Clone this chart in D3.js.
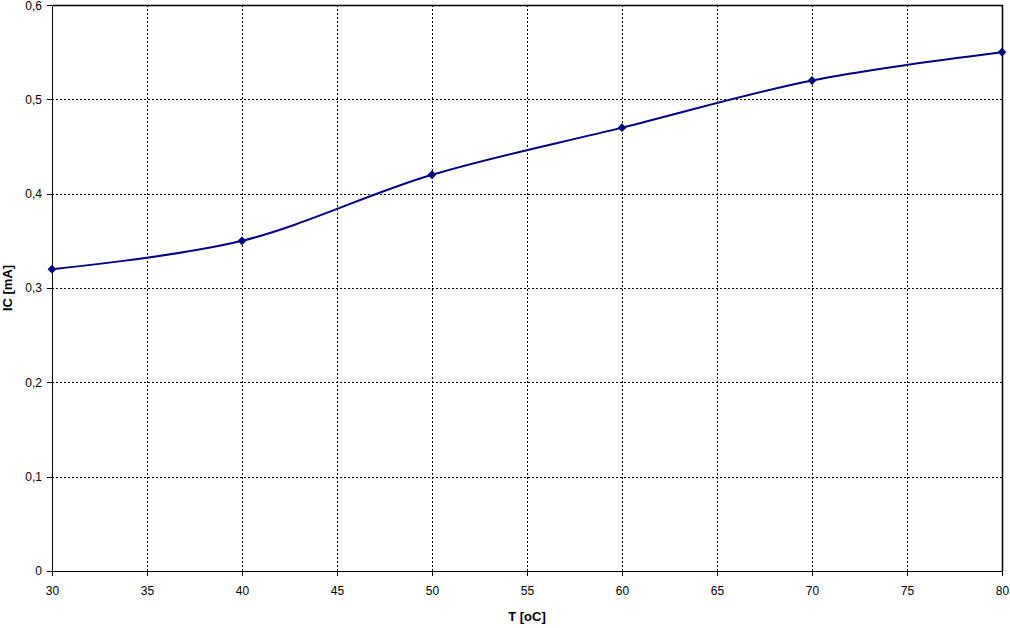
<!DOCTYPE html>
<html>
<head>
<meta charset="utf-8">
<script src="https://cdn.jsdelivr.net/npm/d3@7"></script>
<style>
	body { margin: 0; background: #fff; }
	svg { display: block; font-family: "Liberation Sans", Arial, sans-serif; }
	.grid line { stroke: #000; stroke-dasharray: 2,2; shape-rendering: crispEdges; }
	.axis text { font-size: 12px; fill: #000; }
	.axis path, .axis line { stroke: #000; shape-rendering: crispEdges; }
	.axis-title { font-size: 13px; font-weight: bold; }
</style>
</head>
<body>
<div id="chart"></div>
<script>
const temps = [30, 40, 50, 60, 70, 80];
const currents = [0.32, 0.35, 0.42, 0.47, 0.52, 0.55];
const xTicks = [30, 35, 40, 45, 50, 55, 60, 65, 70, 75, 80];
const yTicks = [0, 0.1, 0.2, 0.3, 0.4, 0.5, 0.6];

const width = 1010;
const height = 628;
const margins = {left: 52, right: 8, top: 5, bottom: 57};
const graphWidth = width - margins.left - margins.right;
const graphHeight = height - margins.top - margins.bottom;

const svg = d3.select('#chart').append('svg')
	.attr('width', width)
	.attr('height', height);

const g = svg.append('g')
	.attr('transform', `translate(${margins.left},${margins.top})`);

const x = d3.scaleLinear().domain([30, 80]).range([0, graphWidth]);
const y = d3.scaleLinear().domain([0, 0.6]).range([graphHeight, 0]);

const fmt = d => d === 0 ? '0' : d3.format('.1f')(d).replace('.', ',');

// dotted grid
g.append('g').attr('class', 'grid')
	.selectAll('line.h').data(yTicks.slice(1, -1))
	.enter().append('line')
	.attr('x1', 0).attr('x2', graphWidth)
	.attr('y1', d => Math.round(y(d)) + 0.5).attr('y2', d => Math.round(y(d)) + 0.5);

g.append('g').attr('class', 'grid')
	.selectAll('line.v').data(xTicks.slice(1, -1))
	.enter().append('line')
	.attr('y1', 0).attr('y2', graphHeight)
	.attr('x1', d => Math.round(x(d)) + 0.5).attr('x2', d => Math.round(x(d)) + 0.5);

// frame top / right
g.append('path')
	.attr('d', `M0.5,0.5H${graphWidth + 0.5}V${graphHeight}`)
	.attr('fill', 'none')
	.attr('stroke', '#000')
	.attr('stroke-width', 1.5);

g.append('g').attr('class', 'axis')
	.attr('transform', `translate(0,${graphHeight})`)
	.call(d3.axisBottom(x).tickValues(xTicks).tickSize(5).tickPadding(10).tickSizeOuter(0))
	.call(a => a.select('.domain').attr('stroke-width', 1.5));

g.append('g').attr('class', 'axis')
	.call(d3.axisLeft(y).tickValues(yTicks).tickFormat(fmt).tickSize(5).tickPadding(5).tickSizeOuter(0))
	.call(a => a.select('.domain').attr('stroke-width', 1.5))
	.call(a => a.selectAll('.tick text').filter(d => d === 0.6).attr('dy', '0.4em'));

const points = temps.map((t, i) => [t, currents[i]]);

g.append('path')
	.datum(points)
	.attr('fill', 'none')
	.attr('stroke', '#000080')
	.attr('stroke-width', 2)
	.attr('d', d3.line()
		.x(d => x(d[0]))
		.y(d => y(d[1]))
		.curve(d3.curveCardinal.tension(0)));

g.selectAll('path.marker')
	.data(points)
	.enter().append('path')
	.attr('class', 'marker')
	.attr('d', d3.symbol(d3.symbolDiamond2, 50))
	.attr('transform', d => `translate(${x(d[0])},${y(d[1])})`)
	.attr('fill', '#000080');

svg.append('text')
	.attr('class', 'axis-title')
	.attr('x', margins.left + graphWidth / 2)
	.attr('y', 621)
	.attr('text-anchor', 'middle')
	.text('T [oC]');

svg.append('text')
	.attr('class', 'axis-title')
	.attr('transform', `translate(12,${margins.top + graphHeight / 2}) rotate(-90)`)
	.attr('text-anchor', 'middle')
	.text('IC [mA]');
</script>
</body>
</html>
